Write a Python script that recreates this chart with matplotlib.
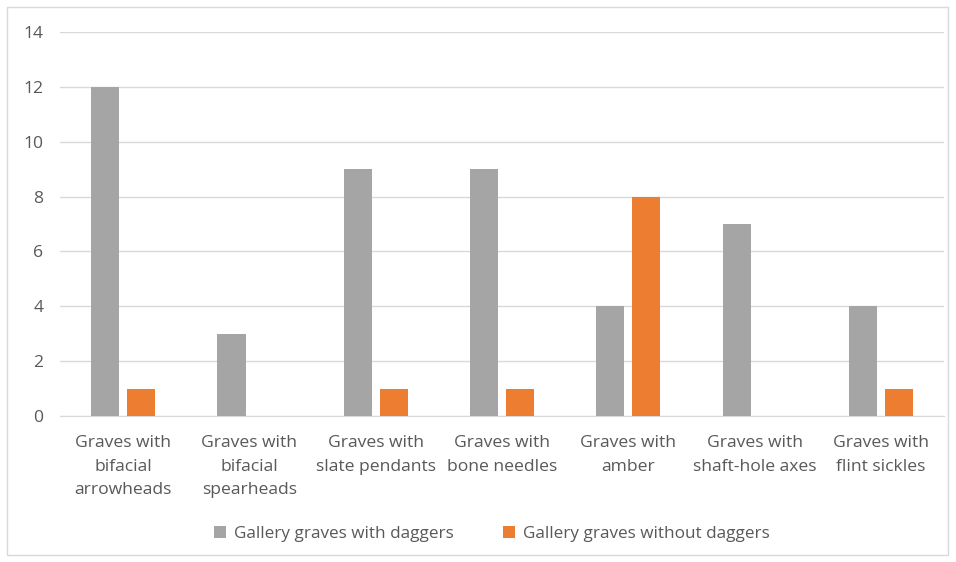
import numpy as np
import matplotlib
matplotlib.use("Agg")
import matplotlib.pyplot as plt
from matplotlib.patches import Rectangle

categories = [
    "Graves with\nbifacial\narrowheads",
    "Graves with\nbifacial\nspearheads",
    "Graves with\nslate pendants",
    "Graves with\nbone needles",
    "Graves with\namber",
    "Graves with\nshaft-hole axes",
    "Graves with\nflint sickles",
]
with_daggers = [12, 3, 9, 9, 4, 7, 4]
without_daggers = [1, 0, 1, 1, 8, 0, 1]
series_names = ["Gallery graves with daggers", "Gallery graves without daggers"]
y_ticks = [0, 2, 4, 6, 8, 10, 12, 14]

plt.rcParams['font.family'] = ['Open Sans', 'DejaVu Sans']
text_col = '#595959'

fig = plt.figure(figsize=(9.56, 5.62), dpi=100)
W, H = 956, 562
ax = fig.add_axes([60 / W, 1 - 416 / H, 884 / W, 384 / H])

# outer chart border
fig.patches.append(Rectangle((7 / W, 7 / H), 941 / W, 548 / H, transform=fig.transFigure,
                             fill=False, edgecolor='#d9d9d9', linewidth=1))

x = np.arange(len(categories))
bw = 0.222
off = 0.142
ax.bar(x - off, with_daggers, bw, color='#a5a5a5', label=series_names[0], zorder=3)
ax.bar(x + off, without_daggers, bw, color='#ed7d31', label=series_names[1], zorder=3)

ax.set_xlim(-0.5, len(categories) - 0.5)
ax.set_ylim(0, 14)
ax.set_yticks(y_ticks)
ax.yaxis.grid(True, color='#d9d9d9', linewidth=1)
ax.set_axisbelow(True)
for s in ['top', 'right', 'left']:
    ax.spines[s].set_visible(False)
ax.spines['bottom'].set_color('#d9d9d9')
ax.tick_params(axis='both', length=0, colors=text_col, labelsize=12.6)
ax.tick_params(axis='y', pad=12)
ax.tick_params(axis='x', pad=14)
ax.set_xticks(x)
ax.set_xticklabels(categories, linespacing=1.62)

fig.legend(loc='center', bbox_to_anchor=(492 / W, 1 - 534 / H), ncol=2, frameon=False,
           fontsize=12.3, labelcolor=text_col, handlelength=0.7, handleheight=0.7,
           handletextpad=0.45, columnspacing=2.9)

fig.savefig('out.png', dpi=100)
